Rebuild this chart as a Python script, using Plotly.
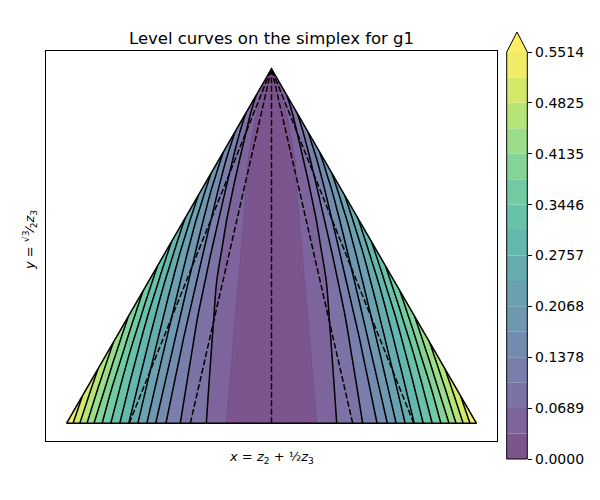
import numpy as np
import plotly.graph_objects as go
from plotly.colors import sample_colorscale, unlabel_rgb

# contour levels of g1 (16 bands, colour bar extends past the top level)
levels = [0.0, 0.03446, 0.06893, 0.10339, 0.13785, 0.17231, 0.20678, 0.24124,
          0.2757, 0.31016, 0.34463, 0.37909, 0.41355, 0.44801, 0.48248,
          0.51694, 0.5514]
tick_labels = ["0.0000", "0.0689", "0.1378", "0.2068", "0.2757",
               "0.3446", "0.4135", "0.4825", "0.5514"]

# where each level meets the bottom edge, as |z2 - z1| / (z1 + z2)
bottom_ratio = [0.0, 0.22, 0.318, 0.445, 0.515, 0.565, 0.608, 0.652, 0.696,
                0.74, 0.784, 0.826, 0.866, 0.90, 0.935, 0.968, 1.0]

# how g1 fades towards the top vertex (z3 = height fraction)
height_frac = [0.0, 0.1, 0.2, 0.3, 0.4, 0.5, 0.6, 0.7, 0.8, 0.9, 0.95, 1.0]
height_factor = [1.0, 0.919, 0.837, 0.752, 0.665, 0.574, 0.48, 0.381,
                 0.276, 0.158, 0.091, 0.0]

# dashed rays from the top vertex
dashed_ratio = [-0.694, -0.396, 0.0, 0.396, 0.694]

simplex_x = [0.0, 1.0, 0.5, 0.0]
simplex_y = [0.0, 0.0, np.sqrt(3) / 2, 0.0]

ALPHA = 0.7
step = levels[1] - levels[0]
n_bands = len(levels) - 1


def px_x(px):
    # page has an 8px body margin, so place things relative to the window
    return (px - 8) / 600


def px_y(py):
    return 1 - (py - 8) / 500


def blend(rgb_str, alpha=ALPHA):
    r, g, b = unlabel_rgb(rgb_str)
    mix = [round(alpha * c + (1 - alpha) * 255) for c in (r, g, b)]
    return "rgb({},{},{})".format(*mix)


band_pos = [(k + 0.5) / n_bands for k in range(n_bands)] + [1.0]
band_colors = [blend(c) for c in sample_colorscale("Viridis", band_pos)]
fill_scale = [[k / n_bands, c] for k, c in enumerate(band_colors)]

# carpet in (signed ratio, height) coordinates mapped onto the simplex
a_full = [-r for r in reversed(bottom_ratio[1:])] + bottom_ratio
z_bottom = list(reversed(levels[1:])) + levels
t = np.array(height_frac)
a = np.array(a_full)
X = 0.5 + np.outer(1 - t, a) / 2
Y = np.outer(t, np.ones_like(a)) * np.sqrt(3) / 2
Z = np.outer(height_factor, z_bottom)

hidden_axis = dict(showgrid=False, showline=False, showticklabels="none",
                   startline=False, endline=False, minorgridcount=0,
                   smoothing=0)

fig = go.Figure()
fig.add_trace(go.Carpet(a=a_full, b=height_frac, x=X, y=Y, carpet="simplex",
                        aaxis=hidden_axis, baxis=hidden_axis))
fig.add_trace(go.Contourcarpet(
    a=a_full, b=height_frac, z=Z, carpet="simplex", autocontour=False,
    contours=dict(start=levels[1], end=levels[-1], size=step, coloring="fill"),
    line=dict(width=0.6, color="rgba(60,40,110,0.3)"),
    colorscale=fill_scale, showscale=False,
))
fig.add_trace(go.Contourcarpet(
    a=a_full, b=height_frac, z=Z, carpet="simplex", autocontour=False,
    contours=dict(start=levels[2], end=levels[-2], size=step, coloring="none"),
    line=dict(width=1.5, color="black"), showscale=False,
))

for r in dashed_ratio:
    fig.add_trace(go.Scatter(
        x=[0.5 + r / 2, 0.5], y=[0.0, np.sqrt(3) / 2], mode="lines",
        line=dict(color="black", width=1.5, dash="6px,2.5px"),
        showlegend=False, hoverinfo="skip",
    ))

fig.add_trace(go.Scatter(x=simplex_x, y=simplex_y, mode="lines",
                         line=dict(color="black", width=1.5),
                         showlegend=False, hoverinfo="skip"))

# colour bar drawn as stacked bars
fig.add_trace(go.Bar(
    x=[0] * n_bands, y=np.diff(levels), base=levels[:-1], width=1,
    marker=dict(color=band_colors[:-1], line=dict(width=0)),
    xaxis="x2", yaxis="y2", showlegend=False, hoverinfo="skip",
))

cb_x0, cb_x1 = px_x(506.7), px_x(527.3)
cb_y0, cb_y1 = px_y(459), px_y(52)
cb_tip = px_y(32)
cb_mid = (cb_x0 + cb_x1) / 2

fig.update_layout(
    template="none",
    width=600, height=500,
    margin=dict(l=0, r=0, t=0, b=0, pad=0, autoexpand=False),
    paper_bgcolor="white", plot_bgcolor="white", barmode="overlay",
    showlegend=False,
    font=dict(family="DejaVu Sans", color="black"),
    xaxis=dict(domain=[px_x(46), px_x(497)], range=[-0.05, 1.05],
               showgrid=False, zeroline=False, showticklabels=False,
               ticks="", showline=True, mirror=True, linecolor="black",
               linewidth=1, automargin=False),
    yaxis=dict(domain=[px_y(441), px_y(51)],
               range=[-0.05 * np.sqrt(3) / 2, 1.05 * np.sqrt(3) / 2],
               showgrid=False, zeroline=False, showticklabels=False,
               ticks="", showline=True, mirror=True, linecolor="black",
               linewidth=1, automargin=False),
    xaxis2=dict(domain=[cb_x0, cb_x1], range=[-0.5, 0.5], visible=False,
                anchor="y2", automargin=False),
    yaxis2=dict(domain=[cb_y0, cb_y1], range=[levels[0], levels[-1]],
                anchor="x2", side="right", showgrid=False, zeroline=False,
                tickvals=levels[::2], ticktext=tick_labels, ticks="outside",
                ticklen=4, tickwidth=1, tickcolor="black", showline=False,
                tickfont=dict(size=14), automargin=False),
    shapes=[
        dict(type="path", xref="paper", yref="paper",
             path=f"M {cb_x0},{cb_y1} L {cb_mid},{cb_tip} L {cb_x1},{cb_y1} Z",
             fillcolor=band_colors[-1], line=dict(width=0)),
        dict(type="path", xref="paper", yref="paper",
             path=(f"M {cb_x0},{cb_y0} L {cb_x0},{cb_y1} L {cb_mid},{cb_tip} "
                   f"L {cb_x1},{cb_y1} L {cb_x1},{cb_y0} Z"),
             line=dict(color="black", width=1)),
    ],
    annotations=[
        dict(text="Level curves on the simplex for g1", xref="paper",
             yref="paper", x=px_x(271.5), y=px_y(38), showarrow=False,
             font=dict(size=16.5), xanchor="center", yanchor="middle"),
        dict(text="<i>x</i> = <i>z</i><sub>2</sub> + ½<i>z</i><sub>3</sub>",
             xref="paper", yref="paper", x=px_x(271.5), y=px_y(457),
             showarrow=False, font=dict(size=13), xanchor="center",
             yanchor="middle"),
        dict(text="<i>y</i> = <sup>√3</sup>⁄<sub>2</sub><i>z</i><sub>3</sub>",
             xref="paper", yref="paper", x=px_x(30), y=px_y(240),
             showarrow=False, font=dict(size=13), textangle=-90,
             xanchor="center", yanchor="middle"),
    ],
)

fig.write_html("out.html")
